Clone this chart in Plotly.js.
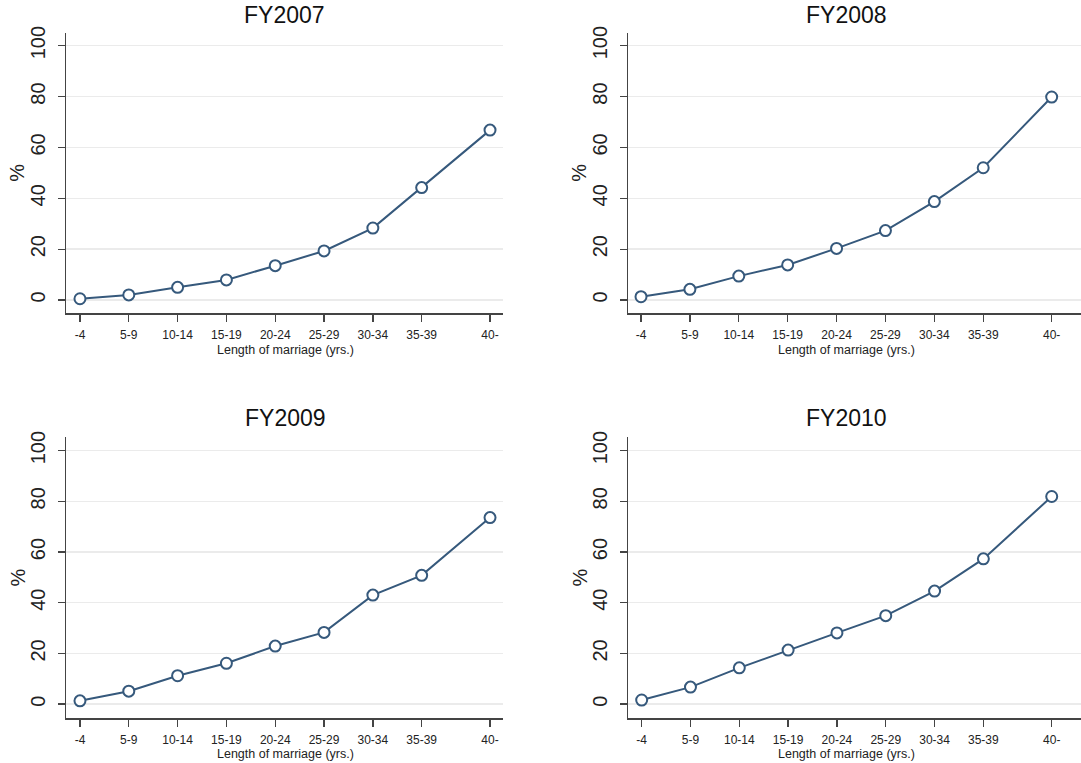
<!DOCTYPE html>
<html>
<head>
<meta charset="utf-8">
<script src="https://cdn.plot.ly/plotly-3.0.1.min.js"></script>
<style>html,body{margin:0;padding:0;background:#fff;}#chart{width:1081px;height:763px;}</style>
</head>
<body>
<div id="chart"></div>
<script>
// ---- data ----
const categories = ["-4", "5-9", "10-14", "15-19", "20-24", "25-29", "30-34", "35-39", "40-"];
const xPositions = [2, 7, 12, 17, 22, 27, 32, 37, 44];
const panelTitles = ["FY2007", "FY2008", "FY2009", "FY2010"];
const fy2007 = [0.5, 2.0, 5.0, 7.9, 13.5, 19.3, 28.3, 44.2, 66.8];
const fy2008 = [1.3, 4.2, 9.4, 13.8, 20.3, 27.3, 38.7, 52.0, 79.8];
const fy2009 = [1.3, 5.1, 11.2, 16.1, 22.9, 28.3, 43.0, 50.8, 73.6];
const fy2010 = [1.6, 6.7, 14.3, 21.3, 28.1, 34.9, 44.6, 57.3, 81.9];
const yTicks = [0, 20, 40, 60, 80, 100];
const xTitle = "Length of marriage (yrs.)";
const yTitle = "%";

// ---- layout helpers ----
const W = 1081, H = 763;
const px = v => v / W;
const py = v => 1 - v / H;
const FONT = "Arial, 'Liberation Sans', sans-serif";
const LINE = "#36597c";

const panels = [
  {data: fy2007, x0: 66.3, x1: 503, y0: 32.7, y1: 313, xr: [0.6, 45.33], yr: [-5.1, 105.1], tx: 284.5, ty: 15, pctx: 17, xtx: 285, xty: 350},
  {data: fy2008, x0: 628.3, x1: 1081, y0: 32.7, y1: 313, xr: [0.7, 47.0], yr: [-5.1, 105.1], tx: 846, ty: 15, pctx: 579, xtx: 846, xty: 350},
  {data: fy2009, x0: 66.3, x1: 503, y0: 436.7, y1: 718.3, xr: [0.6, 45.33], yr: [-5.6, 105.5], tx: 285, ty: 418, pctx: 17, xtx: 285, xty: 754},
  {data: fy2010, x0: 628.3, x1: 1081, y0: 436.7, y1: 718.3, xr: [0.63, 47.0], yr: [-5.6, 105.5], tx: 846, ty: 418, pctx: 579, xtx: 846, xty: 754}
];

const traces = [];
const layout = {
  width: W, height: H,
  margin: {l: 0, r: 0, t: 0, b: 0},
  paper_bgcolor: "#fff", plot_bgcolor: "#fff",
  showlegend: false,
  font: {family: FONT, color: "#222"},
  annotations: []
};

panels.forEach((p, i) => {
  const n = i + 1;
  const xa = n === 1 ? "x" : "x" + n;
  const ya = n === 1 ? "y" : "y" + n;
  traces.push({
    type: "scatter", mode: "lines+markers",
    x: xPositions, y: p.data, xaxis: xa, yaxis: ya,
    line: {color: LINE, width: 2},
    marker: {symbol: "circle", size: 11, color: "#fff", line: {color: LINE, width: 2}},
    cliponaxis: false, hoverinfo: "skip"
  });
  layout["xaxis" + (n === 1 ? "" : n)] = {
    domain: [px(p.x0), Math.min(1, px(p.x1))],
    anchor: ya, range: p.xr,
    tickmode: "array", tickvals: xPositions, ticktext: categories,
    ticks: "outside", ticklen: 7, tickwidth: 1.3, tickcolor: "#444",
    showline: true, linecolor: "#444", linewidth: 1.5,
    showgrid: false, zeroline: false,
    tickfont: {size: 12, color: "#222", family: FONT},
    ticklabelstandoff: 3
  };
  layout["yaxis" + (n === 1 ? "" : n)] = {
    domain: [py(p.y1), py(p.y0)],
    anchor: xa, range: p.yr,
    tickmode: "array", tickvals: yTicks,
    tickangle: -90,
    ticks: "outside", ticklen: 7, tickwidth: 1.3, tickcolor: "#444",
    showline: true, linecolor: "#444", linewidth: 1.5,
    showgrid: true, gridcolor: "#ebebeb", gridwidth: 1.5,
    zeroline: false,
    tickfont: {size: 20, color: "#222", family: FONT},
    ticklabelstandoff: 5
  };
  layout.annotations.push({
    text: panelTitles[i], xref: "paper", yref: "paper",
    x: px(p.tx), y: py(p.ty), xanchor: "center", yanchor: "middle",
    showarrow: false, font: {size: 23, color: "#111", family: FONT}
  });
  layout.annotations.push({
    text: yTitle, xref: "paper", yref: "paper", textangle: -90,
    x: px(p.pctx), y: py((p.y0 + p.y1) / 2), xanchor: "center", yanchor: "middle",
    showarrow: false, font: {size: 20, color: "#222", family: FONT}
  });
  layout.annotations.push({
    text: xTitle, xref: "paper", yref: "paper",
    x: px(p.xtx), y: py(p.xty), xanchor: "center", yanchor: "middle",
    showarrow: false, font: {size: 12.5, color: "#222", family: FONT}
  });
});

Plotly.newPlot("chart", traces, layout, {displayModeBar: false, staticPlot: true});
</script>
</body>
</html>
